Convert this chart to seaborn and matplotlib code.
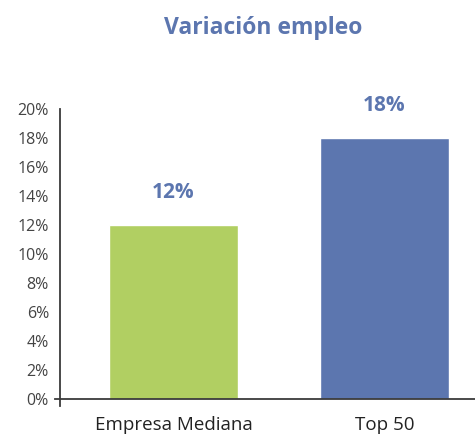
import pandas as pd
import seaborn as sns
import matplotlib.pyplot as plt
from matplotlib.ticker import FuncFormatter

# Data
categorias = ['Empresa Mediana', 'Top 50']
variacion = [12, 18]
colores = ['#b1cf62', '#5c76af']

df = pd.DataFrame({'Categoria': categorias, 'Variacion': variacion})

sns.set_style('white')
plt.rcParams['font.family'] = ['Open Sans', 'DejaVu Sans']

fig = plt.figure(figsize=(4.75, 4.37), dpi=100)
ax = fig.add_axes([60 / 475, 38 / 437, 415 / 475, 290 / 437])

sns.barplot(data=df, x='Categoria', y='Variacion', hue='Categoria',
            palette=colores, width=0.61, saturation=1, legend=False, ax=ax)

ax.set_ylim(0, 20)
ax.set_xlim(-0.538, 1.43)
ax.set_yticks(range(0, 21, 2))
ax.yaxis.set_major_formatter(FuncFormatter(lambda v, p: f'{v:.0f}%'))
ax.set_xlabel('')
ax.set_ylabel('')

for s in ['top', 'right']:
    ax.spines[s].set_visible(False)
for s in ['left', 'bottom']:
    ax.spines[s].set_color('#3a3a3a')
    ax.spines[s].set_linewidth(1.3)
ax.spines['left'].set_bounds(-0.5, 20)
ax.spines['bottom'].set_bounds(-0.56, 1.43)

ax.tick_params(axis='y', direction='in', length=6, width=1.2, color='#3a3a3a',
               labelsize=11.5, labelcolor='#444444', pad=8)
ax.tick_params(axis='x', length=0, labelsize=13.5, labelcolor='#222222', pad=12)

# Value labels
for i, v in enumerate(variacion):
    ax.annotate(f'{v}%', (i, v), xytext=(0, 16), textcoords='offset points',
                ha='center', va='bottom', fontsize=15, fontweight='bold',
                color='#5c76af')

fig.text(263 / 475, 1 - 28 / 437, 'Variación empleo', ha='center', va='center',
         fontsize=16.5, fontweight='bold', color='#5c76af')

fig.savefig('out.png', dpi=100)
